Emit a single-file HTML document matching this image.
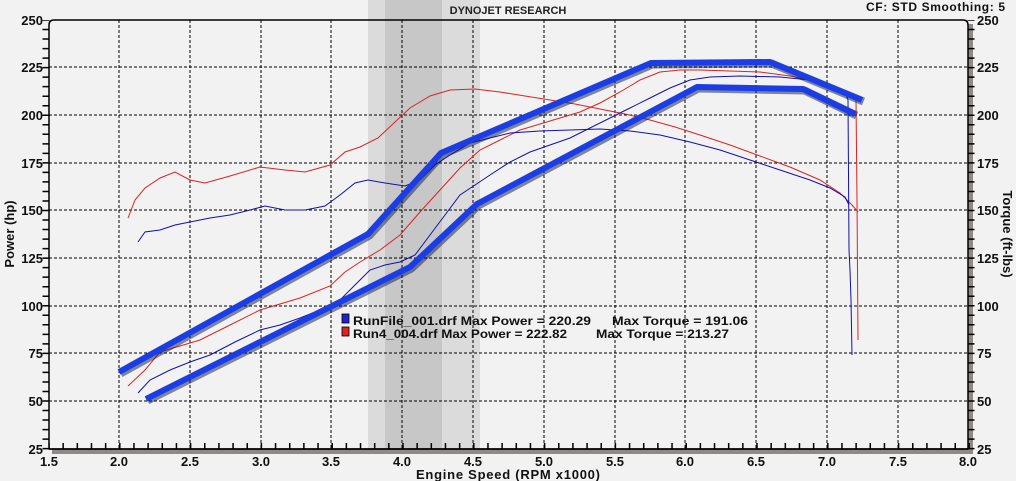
<!DOCTYPE html>
<html><head><meta charset="utf-8"><style>
html,body{margin:0;padding:0;background:#f3f2f2;}
svg{display:block;font-family:"Liberation Sans",sans-serif;font-weight:bold;}
</style></head><body>
<svg width="1016" height="481" viewBox="0 0 1016 481">
<rect width="1016" height="481" fill="#f3f2f2"/>
<rect x="368" y="0" width="112" height="449" fill="#dcdbdb"/>
<rect x="385" y="0" width="57" height="449" fill="#c8c7c7"/>
<rect x="52" y="449" width="920" height="5" fill="#8f8a88"/>
<rect x="968" y="24" width="5" height="430" fill="#8f8a88"/>
<g stroke="#000" stroke-width="1" stroke-dasharray="3,2" fill="none">
<line x1="119" y1="20" x2="119" y2="449"/><line x1="190" y1="20" x2="190" y2="449"/>
<line x1="261" y1="20" x2="261" y2="449"/><line x1="331" y1="20" x2="331" y2="449"/>
<line x1="402" y1="20" x2="402" y2="449"/><line x1="473" y1="20" x2="473" y2="449"/>
<line x1="544" y1="20" x2="544" y2="449"/><line x1="615" y1="20" x2="615" y2="449"/>
<line x1="685" y1="20" x2="685" y2="449"/><line x1="756" y1="20" x2="756" y2="449"/>
<line x1="827" y1="20" x2="827" y2="449"/><line x1="898" y1="20" x2="898" y2="449"/>
<line x1="49" y1="67" x2="968" y2="67"/><line x1="49" y1="115" x2="968" y2="115"/>
<line x1="49" y1="163" x2="968" y2="163"/><line x1="49" y1="210" x2="968" y2="210"/>
<line x1="49" y1="258" x2="968" y2="258"/><line x1="49" y1="306" x2="968" y2="306"/>
<line x1="49" y1="353" x2="968" y2="353"/><line x1="49" y1="401" x2="968" y2="401"/>
</g>
<path d="M49,449 L49,25 Q49,20 54,20 L963,20 Q968,20 968,25 L968,449 Z" fill="none" stroke="#000" stroke-width="1.5"/>
<line x1="46" y1="20" x2="46" y2="450" stroke="#000" stroke-width="7" stroke-dasharray="1.5,8.025" stroke-dashoffset="0.75"/>
<line x1="971" y1="20" x2="971" y2="450" stroke="#000" stroke-width="7" stroke-dasharray="1.5,8.025" stroke-dashoffset="0.75"/>
<line x1="49" y1="446" x2="970" y2="446" stroke="#000" stroke-width="6" stroke-dasharray="1.5,12.66" stroke-dashoffset="0.75"/>
<line x1="49" y1="449" x2="968" y2="449" stroke="#000" stroke-width="1.5"/>
<g font-size="13" text-anchor="end" fill="#111">
<text x="43" y="25">250</text><text x="43" y="72">225</text><text x="43" y="120">200</text>
<text x="43" y="168">175</text><text x="43" y="215">150</text><text x="43" y="263">125</text>
<text x="43" y="311">100</text><text x="43" y="358">75</text><text x="43" y="406">50</text>
<text x="43" y="454">25</text>
</g>
<g font-size="13" text-anchor="start" fill="#111">
<text x="977" y="25">250</text><text x="977" y="72">225</text><text x="977" y="120">200</text>
<text x="977" y="168">175</text><text x="977" y="215">150</text><text x="977" y="263">125</text>
<text x="977" y="311">100</text><text x="977" y="358">75</text><text x="977" y="406">50</text>
<text x="977" y="454">25</text>
</g>
<g font-size="13" text-anchor="middle" fill="#111">
<text x="49" y="466">1.5</text><text x="119" y="466">2.0</text><text x="190" y="466">2.5</text>
<text x="261" y="466">3.0</text><text x="331" y="466">3.5</text><text x="402" y="466">4.0</text>
<text x="473" y="466">4.5</text><text x="544" y="466">5.0</text><text x="615" y="466">5.5</text>
<text x="685" y="466">6.0</text><text x="756" y="466">6.5</text><text x="827" y="466">7.0</text>
<text x="898" y="466">7.5</text><text x="968" y="466">8.0</text>
</g>
<text x="508" y="14" font-size="11" text-anchor="middle" fill="#222">DYNOJET RESEARCH</text>
<text x="866" y="11" font-size="12" fill="#111" textLength="139" lengthAdjust="spacing">CF: STD  Smoothing: 5</text>
<text x="416" y="479" font-size="13" fill="#111" textLength="184" lengthAdjust="spacing">Engine Speed (RPM x1000)</text>
<text transform="translate(14,234) rotate(-90)" font-size="13" text-anchor="middle" fill="#111">Power (hp)</text>
<text transform="translate(1003,234) rotate(90)" font-size="13" text-anchor="middle" fill="#111">Torque (ft-lbs)</text>
<g fill="none" stroke-width="1">
<polyline stroke="#d22" points="128,386 145,370 160,352 180,346 200,340 230,325 260,310 300,298 330,286 345,272 360,262 380,250 400,235 420,212 440,190 460,168 480,150 500,140 520,130 540,124 560,118 580,112 600,103 620,92 640,80 660,72 680,70 700,70 730,71 760,72 790,76 810,80 830,86 845,92 852,96 856,100 857,200 858,340"/>
<polyline stroke="#d22" points="128,218 135,200 145,188 160,178 175,172 190,180 205,183 230,176 260,167 285,170 305,172 330,165 345,152 360,147 378,138 395,122 410,108 430,96 450,90 475,89 500,92 525,96 550,100 575,104 600,109 625,114 650,120 675,127 700,135 730,145 760,156 790,167 820,180 840,193 852,205 858,212"/>
<polyline stroke="#11a" points="138,393 150,380 170,370 190,362 210,355 235,342 260,330 280,325 300,318 320,310 340,300 355,285 370,270 385,265 400,262 415,255 430,235 445,215 460,195 475,185 490,175 510,162 530,152 550,145 570,138 590,128 610,118 630,108 650,98 670,88 690,80 710,77 740,76 780,77 810,80 830,85 845,92 848,100 849,250 850,270 851,300 852,355"/>
<polyline stroke="#11a" points="138,242 145,232 160,230 175,225 190,222 210,218 230,215 250,210 265,206 285,210 305,210 325,206 340,195 355,183 368,180 385,183 405,186 420,180 435,165 450,155 470,143 490,138 510,133 540,131 570,130 600,129 630,131 660,135 690,142 720,150 750,160 780,170 810,180 830,188 845,197 849,205"/>
</g>
<g fill="none" stroke="#0a1a3a" stroke-opacity="0.5" stroke-width="8" stroke-linejoin="round" transform="translate(1.5,1.5)">
<polyline points="119,372 368,234 441,153 651,63 770,62 862,100"/>
<polyline points="146,399 410,267 477,204 697,87 803,89 855,114"/>
</g>
<g fill="none" stroke="#1b3de8" stroke-width="6" stroke-linejoin="round">
<polyline points="119,372 368,234 441,153 651,63 770,62 862,100"/>
<polyline points="146,399 410,267 477,204 697,87 803,89 855,114"/>
</g>
<rect x="342" y="314" width="7" height="9" fill="#22c" stroke="#000" stroke-width="0.8"/>
<rect x="342" y="327" width="7" height="9" fill="#d22" stroke="#000" stroke-width="0.8"/>
<g font-size="12" fill="#111" lengthAdjust="spacingAndGlyphs">
<text x="353" y="325" textLength="238" lengthAdjust="spacingAndGlyphs">RunFile_001.drf Max Power = 220.29</text>
<text x="612" y="325" textLength="136" lengthAdjust="spacingAndGlyphs">Max Torque = 191.06</text>
<text x="353" y="338" textLength="214" lengthAdjust="spacingAndGlyphs">Run4_004.drf Max Power = 222.82</text>
<text x="596" y="338" textLength="133" lengthAdjust="spacingAndGlyphs">Max Torque = 213.27</text>
</g>
</svg>
</body></html>
